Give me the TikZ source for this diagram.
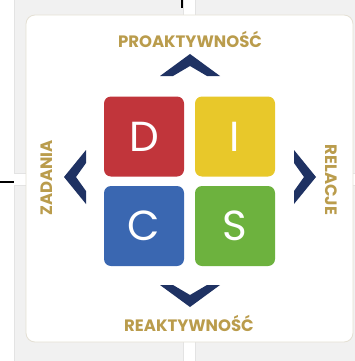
\documentclass[tikz,border=0pt]{standalone}
\usepackage{fontspec}
\setsansfont{Poppins}
\usepackage{xcolor}
\usepackage{tikz}
\usetikzlibrary{positioning}
\definecolor{panelgray}{HTML}{F1F1F1}
\definecolor{paneledge}{HTML}{E3E3E3}
\definecolor{cardedge}{HTML}{E4E0D4}
\definecolor{discred}{HTML}{C1353B}
\definecolor{discyellow}{HTML}{E8C82A}
\definecolor{discblue}{HTML}{3A67B1}
\definecolor{discgreen}{HTML}{6DB23E}
\definecolor{chevron}{HTML}{1F3263}
\definecolor{labelgold}{HTML}{BA9C4C}

\begin{document}
\begin{tikzpicture}[x=1pt, y=-1pt,
    discbox/.style={rectangle, rounded corners=7pt, minimum size=80pt, inner sep=0pt,
        text=white, font=\sffamily\fontsize{42}{42}\selectfont},
    axislabel/.style={text=labelgold, inner sep=0pt, font=\sffamily\bfseries\fontsize{16.5}{16.5}\selectfont}]
    \useasboundingbox (0,0) rectangle (355,361);
    
    % background panels
    \foreach \xa/\xb in {14/183, 195/356}
        \foreach \ya/\yb in {-1/173, 185/362}
            \draw[fill=panelgray, draw=paneledge, line width=0.6pt] (\xa,\ya) rectangle (\xb,\yb);
    \draw[line width=2pt] (182,0) -- (182,8);
    \draw[line width=2pt] (0,182) -- (14,182);
    
    % card
    \draw[fill=white, draw=cardedge, line width=0.8pt, rounded corners=9pt] (26,15) rectangle (353,342);
    
    % DISC squares
    \node[discbox, fill=discred] (d) at (144,136.5) {D};
    \node[discbox, fill=discyellow] (i) at (235,136.5) {I};
    \node[discbox, fill=discblue] (c) at (144,226) {C};
    \node[discbox, fill=discgreen] (s) at (235,226) {S};
    
    % chevrons
    \fill[chevron] (160,76) -- (190,54) -- (220,76) -- (207,76) -- (190,66) -- (173,76) -- cycle;
    \fill[chevron] (160,285) -- (190,307) -- (220,285) -- (207,285) -- (190,295) -- (173,285) -- cycle;
    \fill[chevron] (86,150) -- (64,177) -- (86,204) -- (86,191) -- (76,177) -- (86,163) -- cycle;
    \fill[chevron] (294,150) -- (316,177) -- (294,204) -- (294,191) -- (304,177) -- (294,163) -- cycle;
    
    % labels
    \node[axislabel] (pro) at (190,39) {PROAKTYWNOŚĆ};
    \node[axislabel] (rea) at (189,323) {REAKTYWNOŚĆ};
    \node[axislabel, rotate=90] (zad) at (47,178) {ZADANIA};
    \node[axislabel, rotate=-90] (rel) at (331,180) {RELACJE};
\end{tikzpicture}
\end{document}
